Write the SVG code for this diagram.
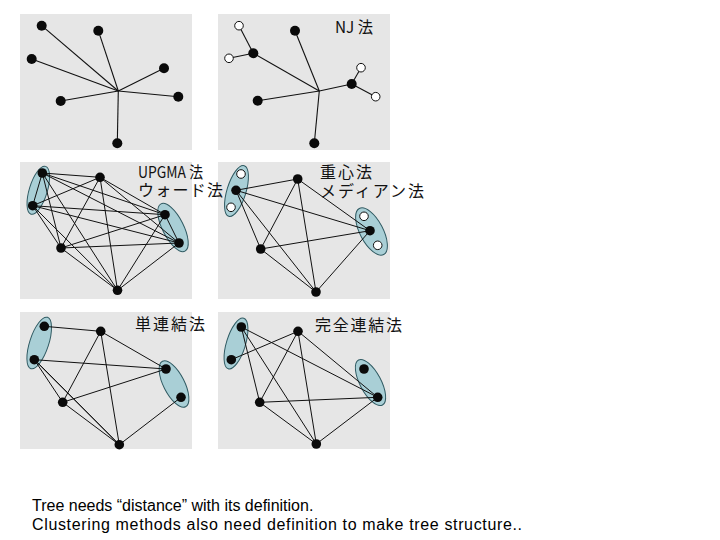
<svg xmlns="http://www.w3.org/2000/svg" width="720" height="540" viewBox="0 0 720 540">
<style>
.bg{fill:#e6e6e6}
.e line{stroke:#111;stroke-width:1}
.e1 line{stroke:#111;stroke-width:1.1}
.n{fill:#0a0a0a}
.w{fill:#fff;stroke:#111;stroke-width:1}
.cl{fill:#a9cfd6;stroke:#2f5a62;stroke-width:1}
.jp{font-family:"Noto Sans CJK JP","Noto Sans",sans-serif;font-size:16px;fill:#111}
.en{font-family:"Liberation Sans",Arial,sans-serif;font-size:16px;fill:#000}
</style>
<rect x="0" y="0" width="720" height="540" fill="#fff"/>
<g id="panels">
<rect class="bg" x="20" y="14" width="172" height="136"/>
<rect class="bg" x="218" y="14" width="172" height="136"/>
<rect class="bg" x="20" y="162" width="172" height="137"/>
<rect class="bg" x="218" y="162" width="172" height="137"/>
<rect class="bg" x="20" y="312" width="172" height="137"/>
<rect class="bg" x="218" y="312" width="172" height="137"/>
</g>
<g id="clusters">
<ellipse class="cl" cx="38.3" cy="190.3" rx="9" ry="25" transform="rotate(17 38.3 190.3)"/>
<ellipse class="cl" cx="173" cy="227.5" rx="10.5" ry="26.5" transform="rotate(-27 173 227.5)"/>
<ellipse class="cl" cx="236.5" cy="191" rx="9.5" ry="26.5" transform="rotate(17 236.5 191)"/>
<ellipse class="cl" cx="371.5" cy="231.5" rx="11.5" ry="26" transform="rotate(-28 371.5 231.5)"/>
<ellipse class="cl" cx="39.2" cy="343" rx="9.5" ry="27" transform="rotate(18 39.2 343)"/>
<ellipse class="cl" cx="174" cy="384" rx="10.5" ry="25.5" transform="rotate(-27 174 384)"/>
<ellipse class="cl" cx="236" cy="343.5" rx="9.5" ry="26.5" transform="rotate(17 236 343.5)"/>
<ellipse class="cl" cx="370.5" cy="382.5" rx="10.5" ry="25.5" transform="rotate(-28 370.5 382.5)"/>
</g>
<g id="connectors">
<g class="e1">
<line x1="118.3" y1="91" x2="41.7" y2="25.7"/>
<line x1="118.3" y1="91" x2="98.3" y2="30.7"/>
<line x1="118.3" y1="91" x2="31.7" y2="59"/>
<line x1="118.3" y1="91" x2="164" y2="68.3"/>
<line x1="118.3" y1="91" x2="178.3" y2="96.7"/>
<line x1="118.3" y1="91" x2="60.7" y2="101"/>
<line x1="118.3" y1="91" x2="117.3" y2="143.3"/>
<line x1="319.3" y1="91" x2="253.3" y2="53.3"/>
<line x1="253.3" y1="53.3" x2="239" y2="25.7"/>
<line x1="253.3" y1="53.3" x2="229" y2="58.3"/>
<line x1="319.3" y1="91" x2="295" y2="30.7"/>
<line x1="319.3" y1="91" x2="351.7" y2="84"/>
<line x1="351.7" y1="84" x2="361" y2="67.7"/>
<line x1="351.7" y1="84" x2="375.7" y2="96.7"/>
<line x1="319.3" y1="91" x2="257.7" y2="100.7"/>
<line x1="319.3" y1="91" x2="314.3" y2="143.3"/>
</g>
<g class="e">
<line x1="42.3" y1="173" x2="32.7" y2="205.7"/>
<line x1="42.3" y1="173" x2="100" y2="177.3"/>
<line x1="42.3" y1="173" x2="165" y2="214.7"/>
<line x1="42.3" y1="173" x2="179" y2="243"/>
<line x1="42.3" y1="173" x2="61" y2="248"/>
<line x1="42.3" y1="173" x2="117.5" y2="290.3"/>
<line x1="32.7" y1="205.7" x2="100" y2="177.3"/>
<line x1="32.7" y1="205.7" x2="165" y2="214.7"/>
<line x1="32.7" y1="205.7" x2="179" y2="243"/>
<line x1="32.7" y1="205.7" x2="61" y2="248"/>
<line x1="32.7" y1="205.7" x2="117.5" y2="290.3"/>
<line x1="100" y1="177.3" x2="165" y2="214.7"/>
<line x1="100" y1="177.3" x2="179" y2="243"/>
<line x1="100" y1="177.3" x2="61" y2="248"/>
<line x1="100" y1="177.3" x2="117.5" y2="290.3"/>
<line x1="165" y1="214.7" x2="179" y2="243"/>
<line x1="165" y1="214.7" x2="61" y2="248"/>
<line x1="165" y1="214.7" x2="117.5" y2="290.3"/>
<line x1="179" y1="243" x2="61" y2="248"/>
<line x1="179" y1="243" x2="117.5" y2="290.3"/>
<line x1="61" y1="248" x2="117.5" y2="290.3"/>
<line x1="236" y1="190.3" x2="297.7" y2="179"/>
<line x1="236" y1="190.3" x2="370" y2="230.7"/>
<line x1="236" y1="190.3" x2="260.7" y2="249"/>
<line x1="236" y1="190.3" x2="316" y2="292"/>
<line x1="297.7" y1="179" x2="370" y2="230.7"/>
<line x1="297.7" y1="179" x2="260.7" y2="249"/>
<line x1="297.7" y1="179" x2="316" y2="292"/>
<line x1="370" y1="230.7" x2="260.7" y2="249"/>
<line x1="370" y1="230.7" x2="316" y2="292"/>
<line x1="260.7" y1="249" x2="316" y2="292"/>
<line x1="44.3" y1="326.3" x2="100.7" y2="331.3"/>
<line x1="34.3" y1="359.7" x2="166" y2="369"/>
<line x1="34.3" y1="359.7" x2="62.7" y2="402.3"/>
<line x1="34.3" y1="359.7" x2="119.3" y2="444.7"/>
<line x1="38" y1="363" x2="119.3" y2="444.7"/>
<line x1="100.7" y1="331.3" x2="166" y2="369"/>
<line x1="100.7" y1="331.3" x2="62.7" y2="402.3"/>
<line x1="100.7" y1="331.3" x2="119.3" y2="444.7"/>
<line x1="62.7" y1="402.3" x2="166" y2="369"/>
<line x1="62.7" y1="402.3" x2="119.3" y2="444.7"/>
<line x1="119.3" y1="444.7" x2="181" y2="397.3"/>
<line x1="241.3" y1="327" x2="259.7" y2="402.3"/>
<line x1="241.3" y1="327" x2="316.3" y2="444"/>
<line x1="241.3" y1="327" x2="377.7" y2="397.3"/>
<line x1="231.3" y1="359.7" x2="298" y2="331.3"/>
<line x1="298" y1="331.3" x2="259.7" y2="402.3"/>
<line x1="298" y1="331.3" x2="316.3" y2="444"/>
<line x1="298" y1="331.3" x2="377.7" y2="397.3"/>
<line x1="259.7" y1="402.3" x2="377.7" y2="397.3"/>
<line x1="259.7" y1="402.3" x2="316.3" y2="444"/>
<line x1="316.3" y1="444" x2="377.7" y2="397.3"/>
</g>
</g>
<g id="nodes">
<g id="p1">
<circle class="n" cx="41.7" cy="25.7" r="5"/>
<circle class="n" cx="98.3" cy="30.7" r="5"/>
<circle class="n" cx="31.7" cy="59" r="5"/>
<circle class="n" cx="164" cy="68.3" r="5"/>
<circle class="n" cx="178.3" cy="96.7" r="5"/>
<circle class="n" cx="60.7" cy="101" r="5"/>
<circle class="n" cx="117.3" cy="143.3" r="5"/>
</g>
<g id="p2">
<circle class="w" cx="239" cy="25.7" r="4.3"/>
<circle class="w" cx="229" cy="58.3" r="4.3"/>
<circle class="n" cx="253.3" cy="53.3" r="5"/>
<circle class="n" cx="295" cy="30.7" r="5"/>
<circle class="w" cx="361" cy="67.7" r="4.3"/>
<circle class="n" cx="351.7" cy="84" r="5"/>
<circle class="w" cx="375.7" cy="96.7" r="4.3"/>
<circle class="n" cx="257.7" cy="100.7" r="5"/>
<circle class="n" cx="314.3" cy="143.3" r="5"/>
</g>
<g id="p3">
<circle class="n" cx="42.3" cy="173" r="4.8"/>
<circle class="n" cx="32.7" cy="205.7" r="4.8"/>
<circle class="n" cx="100" cy="177.3" r="4.8"/>
<circle class="n" cx="165" cy="214.7" r="4.8"/>
<circle class="n" cx="179" cy="243" r="4.8"/>
<circle class="n" cx="61" cy="248" r="4.8"/>
<circle class="n" cx="117.5" cy="290.3" r="4.8"/>
</g>
<g id="p4">
<circle class="w" cx="241" cy="174" r="4.3"/>
<circle class="n" cx="236" cy="190.3" r="4.8"/>
<circle class="w" cx="231" cy="207.3" r="4.3"/>
<circle class="n" cx="297.7" cy="179" r="4.8"/>
<circle class="w" cx="364" cy="216.3" r="4.3"/>
<circle class="n" cx="370" cy="230.7" r="4.8"/>
<circle class="w" cx="377.7" cy="245.3" r="4.3"/>
<circle class="n" cx="260.7" cy="249" r="4.8"/>
<circle class="n" cx="316" cy="292" r="4.8"/>
</g>
<g id="p5">
<circle class="n" cx="44.3" cy="326.3" r="4.8"/>
<circle class="n" cx="34.3" cy="359.7" r="4.8"/>
<circle class="n" cx="100.7" cy="331.3" r="4.8"/>
<circle class="n" cx="166" cy="369" r="4.8"/>
<circle class="n" cx="181" cy="397.3" r="4.8"/>
<circle class="n" cx="62.7" cy="402.3" r="4.8"/>
<circle class="n" cx="119.3" cy="444.7" r="4.8"/>
</g>
<g id="p6">
<circle class="n" cx="241.3" cy="327" r="4.8"/>
<circle class="n" cx="231.3" cy="359.7" r="4.8"/>
<circle class="n" cx="298" cy="331.3" r="4.8"/>
<circle class="n" cx="364" cy="369" r="4.8"/>
<circle class="n" cx="377.7" cy="397.3" r="4.8"/>
<circle class="n" cx="259.7" cy="402.3" r="4.8"/>
<circle class="n" cx="316.3" cy="444" r="4.8"/>
</g>
</g>
<g id="labels">
<text class="jp" x="335" y="33" textLength="38" lengthAdjust="spacingAndGlyphs">NJ 法</text>
<text class="jp" x="138" y="178" textLength="65" lengthAdjust="spacingAndGlyphs">UPGMA 法</text>
<text class="jp" x="138" y="196" textLength="85">ウォード法</text>
<text class="jp" x="320" y="178" textLength="52">重心法</text>
<text class="jp" x="320" y="197" textLength="104">メディアン法</text>
<text class="jp" x="135" y="330" textLength="70">単連結法</text>
<text class="jp" x="315" y="331" textLength="87">完全連結法</text>
<text class="en" x="32" y="511">Tree needs “distance” with its definition.</text>
<text class="en" x="32" y="530" textLength="490">Clustering methods also need definition to make tree structure..</text>
</g>
</svg>
